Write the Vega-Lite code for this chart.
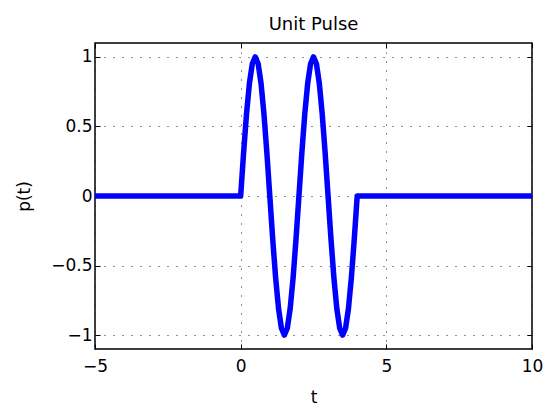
{
  "$schema": "https://vega.github.io/schema/vega-lite/v6.json",
  "width": 437,
  "height": 306,
  "autosize": {"type": "none"},
  "padding": {"left": 95, "top": 43, "right": 16, "bottom": 62},
  "background": "white",
  "title": {"text": "Unit Pulse", "font": "DejaVu Sans", "fontSize": 18, "fontWeight": "normal", "color": "#000", "offset": 9},
  "config": {
    "view": {"stroke": "#000", "strokeWidth": 1.5},
    "axis": {"domain": false, "tickColor": "#000", "tickSize": -5, "tickWidth": 1, "labelFlush": false, "labelOverlap": false, "labelBound": false}
  },
  "data": {"values": [
    {"t": -5, "p": 0},
    {"t": 0, "p": 0},
    {"t": 0.1, "p": 0.309},
    {"t": 0.2, "p": 0.5878},
    {"t": 0.3, "p": 0.809},
    {"t": 0.4, "p": 0.9511},
    {"t": 0.5, "p": 1},
    {"t": 0.6, "p": 0.9511},
    {"t": 0.7, "p": 0.809},
    {"t": 0.8, "p": 0.5878},
    {"t": 0.9, "p": 0.309},
    {"t": 1.0, "p": 0},
    {"t": 1.1, "p": -0.309},
    {"t": 1.2, "p": -0.5878},
    {"t": 1.3, "p": -0.809},
    {"t": 1.4, "p": -0.9511},
    {"t": 1.5, "p": -1},
    {"t": 1.6, "p": -0.9511},
    {"t": 1.7, "p": -0.809},
    {"t": 1.8, "p": -0.5878},
    {"t": 1.9, "p": -0.309},
    {"t": 2.0, "p": 0},
    {"t": 2.1, "p": 0.309},
    {"t": 2.2, "p": 0.5878},
    {"t": 2.3, "p": 0.809},
    {"t": 2.4, "p": 0.9511},
    {"t": 2.5, "p": 1},
    {"t": 2.6, "p": 0.9511},
    {"t": 2.7, "p": 0.809},
    {"t": 2.8, "p": 0.5878},
    {"t": 2.9, "p": 0.309},
    {"t": 3.0, "p": 0},
    {"t": 3.1, "p": -0.309},
    {"t": 3.2, "p": -0.5878},
    {"t": 3.3, "p": -0.809},
    {"t": 3.4, "p": -0.9511},
    {"t": 3.5, "p": -1},
    {"t": 3.6, "p": -0.9511},
    {"t": 3.7, "p": -0.809},
    {"t": 3.8, "p": -0.5878},
    {"t": 3.9, "p": -0.309},
    {"t": 4.0, "p": 0},
    {"t": 10, "p": 0}
  ]},
  "layer": [
    {
      "mark": {"type": "line", "color": "#0000ff", "strokeWidth": 5.5, "strokeJoin": "round", "strokeCap": "butt"},
      "encoding": {
        "x": {"field": "t", "type": "quantitative", "scale": {"domain": [-5, 10], "nice": false, "zero": false}, "axis": {"orient": "bottom", "values": [-5, 0, 5, 10], "format": "d", "title": "t", "grid": true, "gridDash": [1, 8], "gridColor": "#222", "labelPadding": 14, "titlePadding": 15, "labelFont": "DejaVu Sans", "labelFontSize": 17, "labelColor": "#000", "titleFont": "DejaVu Sans", "titleFontSize": 17, "titleFontWeight": "normal", "titleColor": "#000"}},
        "y": {"field": "p", "type": "quantitative", "scale": {"domain": [-1.1, 1.1], "nice": false, "zero": false}, "axis": {"orient": "left", "values": [-1, -0.5, 0, 0.5, 1], "format": ".1~f", "title": "p(t)", "grid": true, "gridDash": [1, 8], "gridColor": "#222", "labelPadding": 8, "titlePadding": 17, "labelFont": "DejaVu Sans", "labelFontSize": 17, "labelColor": "#000", "titleFont": "DejaVu Sans", "titleFontSize": 17, "titleFontWeight": "normal", "titleColor": "#000"}}
      }
    },
    {
      "mark": {"type": "point", "opacity": 0},
      "encoding": {
        "x": {"field": "t", "type": "quantitative", "axis": {"orient": "top", "values": [-5, 0, 5, 10], "labels": false, "title": null, "grid": false}},
        "y": {"field": "p", "type": "quantitative", "axis": {"orient": "right", "values": [-1, -0.5, 0, 0.5, 1], "labels": false, "title": null, "grid": false}}
      }
    }
  ],
  "resolve": {"axis": {"x": "independent", "y": "independent"}}
}
